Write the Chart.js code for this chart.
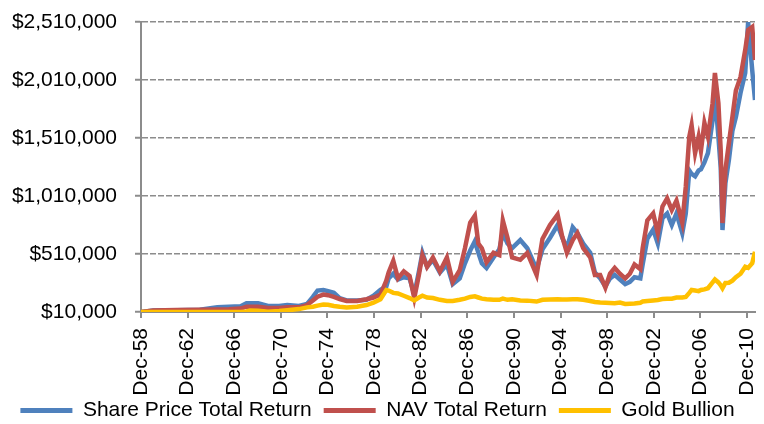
<!DOCTYPE html>
<html>
<head>
<meta charset="utf-8">
<script src="https://cdn.jsdelivr.net/npm/chart.js@4.4.1/dist/chart.umd.min.js"></script>
<style>
  html, body { margin: 0; padding: 0; background: #fff; overflow: hidden; }
  canvas { display: block; }
</style>
</head>
<body>
<canvas id="chart" width="764" height="424"></canvas>
<script>
// growth of $10,000 invested Dec-58 (values in $ thousands)
const years = [
  1958.95, 1960.0, 1962.0, 1964.0, 1965.5, 1966.5, 1967.5, 1968.0, 1968.3, 1969.0,
  1969.85, 1970.8, 1971.5, 1972.5, 1973.2, 1973.7, 1974.1, 1974.6, 1975.0, 1975.5,
  1976.0, 1976.6, 1977.5, 1978.3, 1978.9, 1979.5, 1980.0, 1980.2, 1980.6, 1981.0,
  1981.5, 1982.0, 1982.4, 1982.8, 1983.1, 1983.5, 1984.0, 1984.6, 1985.2, 1985.7,
  1986.3, 1986.75, 1987.2, 1987.6, 1987.9, 1988.2, 1988.6, 1989.2, 1989.7, 1990.0,
  1990.4, 1990.8, 1991.5, 1992.1, 1992.9, 1993.4, 1994.05, 1994.7, 1995.1, 1995.5,
  1996.0, 1996.4, 1996.9, 1997.5, 1997.9, 1998.35, 1998.8, 1999.2, 1999.6, 2000.05,
  2000.5, 2000.9, 2001.3, 2001.8, 2002.0, 2002.4, 2002.9, 2003.3, 2003.7, 2004.1,
  2004.5, 2004.9, 2005.4, 2005.7, 2006.0, 2006.2, 2006.5, 2006.8, 2007.0, 2007.3,
  2007.6, 2008.0, 2008.2, 2008.5, 2008.7, 2008.85, 2009.1, 2009.4, 2009.7, 2010.0,
  2010.4, 2010.8, 2011.05, 2011.4, 2011.64
];
const sharePriceK = [
  10, 24, 26, 30, 50, 56, 60, 85, 85, 85,
  62, 62, 70, 62, 80, 140, 195, 200, 190, 175,
  130, 110, 110, 115, 150, 200, 230, 300, 340, 290,
  310, 300, 160, 360, 520, 400, 460, 350, 420, 250,
  300, 430, 540, 620, 520, 430, 390, 480, 550, 690,
  600, 560, 630, 560, 380, 550, 650, 760, 650, 560,
  740, 690, 600, 520, 350, 300, 230, 300, 330, 290,
  250, 270, 310, 300, 420, 640, 720, 600, 820, 860,
  760, 860, 690, 860, 1230, 1200, 1180, 1230, 1240, 1300,
  1380, 1660, 1890, 1520, 1250, 717, 1120, 1320, 1570, 1690,
  1900, 2070, 2510, 2096, 1838
];
const navK = [
  10, 24, 27, 30, 32, 33, 40, 56, 56, 56,
  44, 44, 50, 50, 70, 110, 142, 160, 155, 140,
  122, 105, 105, 120, 135, 160, 280, 350, 450, 300,
  360, 320, 130, 330, 500, 400, 480, 360, 480, 270,
  370, 560, 780, 840, 600, 560, 440, 520, 500, 800,
  650, 480, 460, 520, 330, 640, 760, 850, 660, 520,
  630, 690, 560, 480, 330, 330, 220, 340, 390, 340,
  300, 340, 420, 380, 560, 800, 860, 690, 920, 990,
  890, 970, 780, 1090, 1520, 1620, 1380, 1520, 1400, 1640,
  1520, 1810, 2070, 1810, 1400, 777, 1234, 1467, 1690, 1920,
  2036, 2269, 2441, 2467, 2182
];
const goldK = [
  10, 10, 10, 10, 10, 10, 11, 14, 22, 20,
  12, 18, 25, 35, 50, 55, 65, 75, 72, 62,
  55, 48, 55, 70, 90, 120, 200, 195, 175, 170,
  150, 130, 110, 135, 150, 135, 130, 115, 105, 105,
  115, 125, 140, 145, 135, 125, 120, 115, 115, 125,
  115, 120, 110, 108, 100, 115, 118, 120, 118, 118,
  120, 120, 115, 105, 97, 92, 90, 88, 86, 92,
  80, 82, 83, 90, 100, 105, 110, 113, 122, 125,
  125, 135, 135, 140, 175, 200, 195, 190, 200, 205,
  215, 265, 290, 265, 240, 215, 260, 262, 280, 310,
  340, 400, 390, 430, 530
];

const tickYears = [1958.95, 1962.95, 1966.95, 1970.95, 1974.95, 1978.95, 1982.95,
                   1986.95, 1990.95, 1994.95, 1998.95, 2002.95, 2006.95, 2010.95];
const tickLabels = ['Dec-58', 'Dec-62', 'Dec-66', 'Dec-70', 'Dec-74', 'Dec-78', 'Dec-82',
                    'Dec-86', 'Dec-90', 'Dec-94', 'Dec-98', 'Dec-02', 'Dec-06', 'Dec-10'];
const yTicks = [10000, 510000, 1010000, 1510000, 2010000, 2510000];

const AXIS = '#8c8c8c';
const FONT = { family: 'Liberation Sans, Arial, sans-serif', size: 21 };

const points = vals => vals.map((v, i) => ({ x: years[i], y: v * 1000 }));
const series = (label, vals, color) => ({
  label, data: points(vals),
  borderColor: color, backgroundColor: color,
  borderWidth: 4.5, pointRadius: 0, tension: 0,
});
const noEdgePadding = s => { s.paddingTop = s.paddingBottom = s.paddingLeft = s.paddingRight = 0; };

// the rotated date labels run a little into the legend band; let them draw unclipped
const xLabelRoom = {
  id: 'xLabelRoom',
  afterLayout(chart) { const s = chart.scales.x; s.bottom = s.top + 92; },
};

new Chart(document.getElementById('chart'), {
  type: 'line',
  data: {
    // first dataset is painted last: gold on top, then NAV, then share price
    datasets: [
      series('Gold Bullion', goldK, '#FFC000'),
      series('NAV Total Return', navK, '#C0504D'),
      series('Share Price Total Return', sharePriceK, '#4F81BD'),
    ],
  },
  plugins: [xLabelRoom],
  options: {
    responsive: false, animation: false,
    devicePixelRatio: 1,
    layout: { padding: { top: 22, right: 9, left: 0, bottom: -7 } },
    plugins: {
      tooltip: { enabled: false },
      legend: {
        position: 'bottom',
        reverse: true,
        labels: {
          color: '#000', font: FONT,
          boxWidth: 52, boxHeight: 5, padding: 12,
          generateLabels: chart => Chart.defaults.plugins.legend.labels
            .generateLabels(chart).map(l => ({ ...l, lineWidth: 0 })),
        },
      },
    },
    scales: {
      x: {
        type: 'linear',
        min: 1958.95, max: 2011.64,
        afterBuildTicks: s => { s.ticks = tickYears.map(v => ({ value: v })); },
        afterFit: s => { s.height = 76; noEdgePadding(s); },
        ticks: {
          color: '#000', font: FONT, padding: 10,
          minRotation: 90, maxRotation: 90, autoSkip: false,
          callback: (v, i) => tickLabels[i],
        },
        grid: { drawOnChartArea: false, drawTicks: true, tickLength: 6, color: AXIS, lineWidth: 2 },
        border: { color: AXIS, width: 2 },
      },
      y: {
        min: 10000, max: 2510000,
        afterBuildTicks: s => { s.ticks = yTicks.map(v => ({ value: v })); },
        afterFit: s => { s.width = 141; noEdgePadding(s); },
        ticks: {
          color: '#000', font: FONT, padding: 18,
          callback: v => '$' + v.toLocaleString('en-US'),
        },
        grid: { color: AXIS, lineWidth: 1.5, tickLength: 6, tickColor: AXIS, tickWidth: 2, tickBorderDash: [] },
        border: { color: AXIS, width: 2, dash: [6, 2] },
      },
    },
  },
});
</script>
</body>
</html>
